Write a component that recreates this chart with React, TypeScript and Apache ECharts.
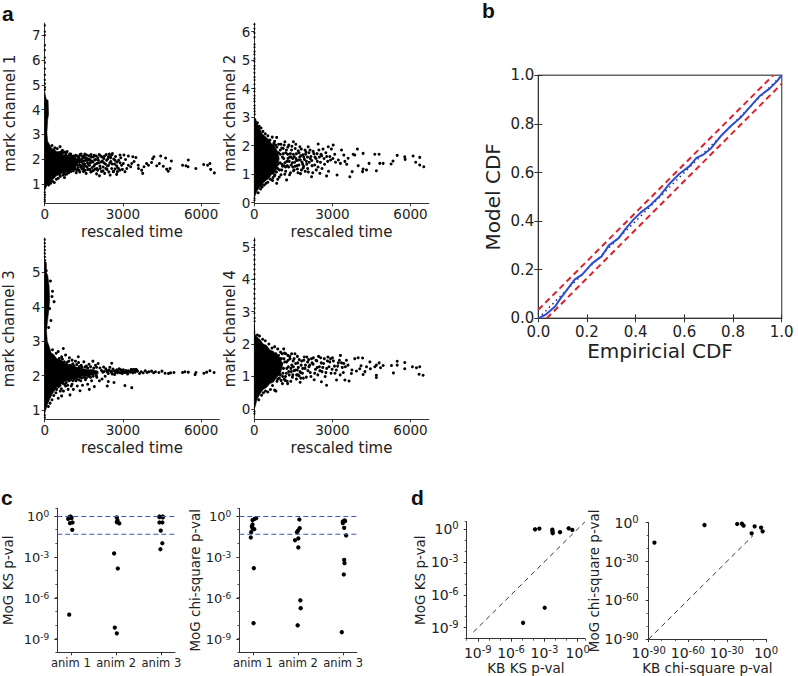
import React, { useEffect, useRef } from "react";
import * as echarts from "echarts";

type P = number[];

// ---------- panel a: mark channels vs rescaled time ----------
const timeTicks = [0, 3000, 6000];
const ch1Ticks = [1, 2, 3, 4, 5, 6, 7];
const ch2Ticks = [0, 1, 2, 3, 4, 5, 6];
const ch3Ticks = [1, 2, 3, 4, 5];
const ch4Ticks = [0, 1, 2, 3, 4, 5];

// outlines of the saturated (solid black) part of each cloud
const ch1Core: P[] = [[0,4.7],[60,4.42],[130,4.38],[150,3.8],[115,3.6],[85,3.05],[115,2.72],[200,2.56],[280,2.42],[350,2.42],[450,2.3],[590,2.3],[700,2.16],[800,2.18],[900,2.08],[1050,2.1],[1180,1.98],[1280,1.85],[1180,1.7],[1050,1.55],[900,1.54],[800,1.45],[700,1.46],[590,1.35],[450,1.32],[350,1.2],[280,1.16],[200,1.02],[100,0.95],[40,0.82],[0,0.72]];
const ch2Core: P[] = [[0,3.0],[50,2.95],[110,2.78],[220,2.58],[300,2.42],[350,2.38],[470,2.28],[560,2.22],[650,2.08],[760,2.02],[880,1.82],[960,1.55],[880,1.22],[760,1.02],[650,0.98],[560,0.84],[470,0.8],[350,0.7],[300,0.58],[220,0.55],[110,0.42],[50,0.28],[0,0.18]];
const ch3Core: P[] = [[0,5.3],[60,5.3],[70,5.0],[120,4.9],[170,4.6],[190,4.2],[160,3.9],[110,3.6],[70,3.3],[100,3.0],[170,2.85],[250,2.66],[340,2.62],[460,2.5],[620,2.45],[840,2.34],[1000,2.32],[1160,2.25],[1320,2.24],[1480,2.2],[1650,2.18],[1850,2.18],[2050,2.13],[2050,2.05],[1850,2.02],[1650,1.98],[1480,1.98],[1320,1.96],[1160,1.93],[1000,1.88],[840,1.85],[620,1.76],[460,1.66],[340,1.52],[200,1.33],[100,1.15],[40,1.0],[0,0.9]];
const ch4Core: P[] = [[0,2.6],[30,2.3],[100,2.22],[220,2.14],[340,2.0],[470,1.96],[600,1.82],[730,1.78],[860,1.66],[1000,1.58],[1090,1.35],[1000,1.08],[860,0.98],[730,0.82],[600,0.78],[470,0.66],[340,0.6],[220,0.46],[100,0.28],[40,0.08],[0,0.0]];

const ch1Spikes: P[] = [[5,7.4],[5,7.15],[5,7.0],[8,6.6],[5,6.4],[5,6.1],[8,5.9],[5,5.65],[8,5.4],[5,5.2],[10,5.05],[15,4.9],[8,4.8],[5,0.65],[8,0.55],[5,0.45],[3,0.35],[5,0.28]];
const ch2Spikes: P[] = [[5,6.25],[5,6.1],[5,5.95],[5,5.8],[8,5.55],[5,5.45],[8,5.3],[5,5.2],[8,5.05],[5,4.95],[8,4.8],[5,4.7],[5,4.55],[8,4.4],[8,4.3],[5,4.15],[8,4.0],[5,3.9],[8,3.75],[5,3.65],[8,3.55],[10,3.4],[8,3.3],[12,3.2],[15,3.1],[8,0.15],[5,0.08]];
const ch3Spikes: P[] = [[5,5.95],[5,5.85],[5,5.75],[8,5.65],[5,5.55],[8,5.45],[20,5.35],[5,0.85],[8,0.78]];
const ch4Spikes: P[] = [[5,5.2],[5,5.05],[5,4.9],[5,4.75],[5,4.6],[8,4.45],[5,4.3],[8,4.15],[5,4.0],[5,3.85],[8,3.7],[5,3.55],[8,3.4],[5,3.25],[8,3.1],[5,2.95],[10,2.8],[12,2.7],[8,-0.08],[5,-0.15]];

const ch1Sparse: P[] = [
  [6510,1.44],[6370,1.58],[6340,1.82],[6250,1.75],[6100,1.78],[5800,1.62],[5510,1.96],[5500,1.69],[5420,1.73],[5290,1.75],
  [4860,1.92],[4810,1.62],[4740,1.51],[4680,1.59],[4640,2.04],[4450,2.12],[4550,1.71],[4400,1.82],[4300,1.73],[4190,2.09],
  [4140,2.01],[4100,1.86],[3980,1.75],[3910,1.82],[3760,1.42],[3720,1.55],[3810,1.69],[3590,1.75],[3500,2.06],[3380,2.09],
  [3210,2.12],[3040,2.16],[2890,2.16],[3340,1.82],[3210,1.75],[3300,1.69],[3020,1.82],[2890,1.85],[2760,1.73],[2630,1.49],
  [2790,1.49],[3080,1.49],[2510,2.09],[2570,2.16],[2440,2.09],[3430,1.9],[3150,1.62],[2980,1.58],[2700,1.95],[3600,1.62],[3100,1.98],
  [1000,1.62],[1000,2.2],[1030,1.9],[1060,1.7],[1080,2.1],[1100,1.53],[1120,2.02],[1150,1.85],[1170,1.62],[1190,2.15],
  [1210,1.45],[1240,1.95],[1260,1.75],[1290,2.08],[1310,1.55],[1330,1.86],[1360,2.18],[1380,1.68],[1400,1.98],[1430,1.6],
  [1450,2.1],[1470,1.8],[1490,1.5],[1520,1.92],[1540,2.2],[1570,1.72],[1590,1.42],[1620,2.02],[1640,1.85],[1660,1.58],
  [1690,2.13],[1720,1.75],[1740,1.95],[1770,1.48],[1790,2.08],[1820,1.66],[1850,1.88],[1880,1.55],[1900,2.15],[1930,1.78],
  [1960,1.98],[1990,1.4],[2010,1.62],[2040,2.05],[2070,1.85],[2100,1.32],[2120,1.72],[2150,2.12],[2180,1.5],[2210,1.92],
  [2240,1.68],[2270,2.02],[2300,1.42],[2330,1.8],[2360,2.18],[2390,1.58],[2420,2.0],[2450,1.75],[2480,2.2],[2510,1.35],
  [2540,1.9],[2570,1.62],[2600,2.22],[2640,1.5],[2680,1.8],[2720,2.1],[2760,1.38],[2800,1.65],[2840,1.95],[2880,1.55],
  [2920,2.05],[2950,1.75],[1080,1.95],[1140,1.7],[1220,1.85],[1300,2.0],[1350,1.75],[1420,1.88],[1500,1.7],[1560,2.05],
  [150,0.95],[230,1.02],[300,1.1],[370,1.05],[450,1.18],[520,1.22],[600,1.3],[700,1.35],[760,1.25],[850,1.4],[920,1.45],
  [280,2.55],[390,2.45],[480,2.42],[590,2.5],[680,2.35],[770,2.28],[860,2.3],[960,2.2],
  [620,2.28],[660,2.15],[710,2.25],[745,1.42],[790,1.38],[820,2.2],[880,1.5],[910,2.12],[940,1.52],[990,2.15],[1015,1.5],[1045,2.05],[1075,1.58],[1105,2.12],[1135,1.62],[1160,2.05],[1185,1.75],[1205,1.98],[1230,1.55],[1255,2.12],[1275,1.65],[1300,1.9],[1325,2.1],[1345,1.48],[1370,1.95],[1395,2.2],[1410,1.72],[1440,1.9],[1465,2.03],[1485,1.62],[1510,2.12],[1530,1.8],[1555,1.55],[1580,1.95],[1605,2.16],[1630,1.68],[1655,1.95],[1680,1.78],[1705,2.0],[1730,1.58],[1755,1.85],[1780,2.18],[1810,1.92],[1835,1.52],[1865,2.08],[1890,1.72],[1920,1.96],[1945,1.6],[1975,2.12],[2000,1.82],[2030,1.55],[2060,1.95],[2090,2.18],[2130,1.62],[2160,1.88],[2200,2.08],[2235,1.52],[2265,1.85],[2295,2.12],[2340,1.62],[2375,1.95],[2410,1.72],[2460,1.48],[2500,1.85],[2530,2.05],[2590,1.8],[2650,2.0],[2700,1.6],[2770,1.88],[2830,1.62],
];
const ch2Sparse: P[] = [
  [6510,1.26],[6355,1.32],[6200,1.42],[6355,1.59],[6100,1.64],[5780,1.61],[5795,1.52],[5490,1.66],[5330,1.46],[5255,1.36],
  [4950,1.38],[4820,1.38],[4795,1.7],[4630,1.7],[4690,1.12],[4410,1.38],[4310,1.15],[4180,1.18],[4160,1.09],[4180,1.73],
  [3960,1.88],[3860,1.67],[3800,1.7],[3990,1.3],[3760,1.09],[3670,0.91],[3605,1.56],[3350,1.85],[3440,1.67],[3310,1.38],
  [3180,0.97],[3030,2.02],[2840,1.96],[2775,0.94],[2520,1.03],[2455,2.06],[2200,0.91],[2070,1.96],[1750,1.96],[1500,2.14],
  [1175,2.14],[860,2.29],[1240,0.8],[860,0.68],[3550,1.35],[3480,1.45],[3230,1.5],[3120,1.42],[2960,1.88],[2900,1.62],
  [2850,1.1],[2750,1.75],[2680,1.55],[2600,1.2],[2560,1.7],[2480,1.85],[2420,1.45],[2380,1.15],[2330,1.6],[2260,1.8],
  [2220,1.3],[2150,1.55],[2100,1.75],[2050,1.2],[2000,1.45],[1950,1.85],[1900,1.6],[1860,1.35],[1810,1.15],[1770,1.5],
  [1720,1.75],[1680,1.05],[1640,1.3],[1600,1.55],[1570,1.9],[1530,1.15],[1500,1.7],[1460,1.4],[1430,1.85],[1390,1.05],
  [1360,1.6],[1320,1.25],[1290,1.95],[1250,1.45],[1210,1.75],[1170,1.0],[1140,1.3],[1110,1.9],[1080,1.6],[1050,1.15],
  [1020,2.05],[990,1.4],[960,0.9],[930,1.75],[900,1.2],[870,1.95],[840,1.5],[1000,1.7],[1060,1.35],[1130,1.55],[1200,1.25],
  [1280,1.7],[1340,1.45],[1410,1.6],[1480,1.25],[1550,1.42],[1620,1.72],[1700,1.5],[1790,1.65],[1880,1.22],[1970,1.7],
  [900,0.82],[780,0.95],[700,0.78],[620,0.82],[520,0.72],[450,0.68],[380,0.62],[300,0.55],[240,0.48],[150,0.35],
  [780,2.15],[690,2.3],[600,2.2],[520,2.35],[420,2.42],[330,2.5],[260,2.62],[190,2.68],[120,2.8],
  [720,0.88],[750,2.08],[790,0.98],[820,2.02],[850,1.08],[880,1.75],[910,1.35],[935,2.05],[965,1.15],[995,1.85],[1025,0.98],[1055,1.92],[1085,1.28],[1115,1.72],[1145,2.02],[1175,1.4],[1205,1.1],[1235,1.85],[1265,1.3],[1295,1.55],[1325,2.02],[1355,0.98],[1385,1.72],[1415,1.32],[1445,1.98],[1475,1.55],[1505,1.12],[1535,1.62],[1565,1.28],[1595,2.05],[1625,1.48],[1655,1.18],[1685,1.82],[1715,1.32],[1745,1.6],[1775,1.02],[1805,1.88],[1835,1.42],[1865,1.68],[1895,1.28],[1925,1.52],[1955,1.1],[1985,1.78],[2015,1.35],[2045,1.6],[2075,1.08],[2110,1.42],[2140,1.85],[2175,1.62],[2210,1.48],[2245,1.05],[2290,1.72],[2320,1.32],[2370,1.55],[2410,1.72],[2450,1.25],[2500,1.6],[2540,1.42],[2590,1.65],[2640,1.88],[2700,1.35],[2780,1.62],[2820,1.45],[2930,1.5],[3020,1.55],[3090,1.7],
];
const ch3Sparse: P[] = [
  [6500,2.09],[6340,2.14],[6215,2.1],[6110,2.07],[5805,2.09],[5770,2.03],[5510,2.1],[5380,2.11],[5290,2.09],[4960,2.09],
  [4830,2.08],[4750,2.06],[4620,2.07],[4500,2.13],[4380,2.09],[4250,2.11],[4180,2.08],[4100,2.13],[4000,2.11],[3930,2.09],
  [3860,2.14],[3780,2.08],[3700,2.11],[3640,2.06],[3560,2.13],[3500,2.18],[3430,2.15],[3380,2.08],[3320,2.18],[3250,2.12],
  [3180,2.05],[3120,2.15],[3050,2.1],[2980,2.06],[2920,2.17],[2860,2.2],[2790,2.08],[2740,2.14],[2680,2.03],[2620,2.19],
  [2560,2.1],[2500,2.24],[2440,2.06],[2380,2.14],[2320,1.98],[2260,2.25],[3340,1.65],[3080,1.71],[2570,2.36],[2660,1.8],
  [2440,1.83],[2400,1.7],[1905,1.68],[1710,1.6],[1355,1.56],[1290,2.55],[970,1.44],[650,1.41],[520,1.34],[205,1.2],
  [715,2.79],[360,4.15],[2050,2.35],[1950,2.3],[1850,2.42],[1700,2.33],[1600,2.28],[1500,2.4],[1400,2.3],[1300,2.38],[1180,2.42],
  [1050,2.45],[950,2.52],[800,2.6],[650,2.55],[520,2.7],[440,2.65],[300,2.75],[2200,1.9],[2100,1.85],[2000,1.95],[1800,1.85],[1650,1.75],[1560,1.88],
  [1450,1.72],[1380,1.85],[1250,1.7],[1200,1.85],[1100,1.6],[1050,1.75],[900,1.6],[800,1.7],[720,1.55],[600,1.55],[430,1.5],
  [350,1.42],[280,1.3],[140,1.1],[300,4.45],[280,4.3],[240,3.6],[220,4.75],[190,3.95],[150,3.4],[60,5.05],
  [330,1.58],[390,1.62],[460,1.6],[530,1.68],[590,1.72],[640,1.62],[690,1.78],[760,1.75],[830,1.8],[880,1.72],[930,1.85],[990,1.88],[1020,1.7],[1080,1.85],[1130,1.9],[1220,1.92],[1300,1.88],[1340,1.95],[1420,1.93],[1520,1.95],[1600,1.93],[1680,1.98],[1760,1.95],[1860,1.98],[1980,2.0],
  [560,2.5],[600,2.42],[680,2.48],[750,2.4],[850,2.38],[920,2.42],[1000,2.3],[1080,2.34],[1130,2.28],[1230,2.32],[1330,2.26],[1430,2.24],[1550,2.25],[1650,2.22],[1760,2.26],[1880,2.22],[1990,2.24],[2120,2.22],[2180,2.15],[2230,2.1],[2280,2.12],[2340,2.2],[2410,2.1],[2460,2.16],[2530,2.13],[2590,2.05],[2650,2.14],[2710,2.1],[2770,2.17],[2830,2.12],[2900,2.08],[2960,2.12],[3020,2.17],[3090,2.09],[3150,2.11],[3210,2.14],[3280,2.1],[3350,2.13],[3410,2.18],[3470,2.1],[3530,2.16],
];
const ch4Sparse: P[] = [
  [6485,1.04],[6330,1.07],[6355,1.3],[6230,1.27],[6075,1.3],[5780,1.43],[5780,1.24],[5490,1.47],[5490,1.35],[5270,1.34],
  [5345,1.11],[4950,1.34],[4850,1.27],[4795,1.42],[4690,1.35],[4690,1.04],[4690,0.97],[4630,1.3],[4440,1.45],[4460,1.24],
  [4310,1.3],[4180,1.06],[4160,1.57],[3990,1.58],[3860,1.55],[4050,1.24],[3730,1.09],[3640,0.86],[3925,1.17],[3540,1.5],
  [3310,1.65],[3160,0.89],[3480,0.89],[2775,0.73],[2580,0.84],[3005,1.58],[4250,1.15],[4100,1.33],[3750,1.2],[3600,1.35],
  [3440,1.4],[3380,1.28],[3300,1.05],[3230,1.42],[3150,1.2],[3080,1.32],[2950,1.1],[2900,1.45],[2830,1.6],[2780,1.25],
  [2720,1.0],[2660,1.4],[2600,1.15],[2550,1.58],[2500,1.3],[2440,1.05],[2400,1.48],[2350,1.22],[2300,0.9],[2260,1.38],
  [2200,1.55],[2150,1.12],[2100,1.3],[2050,1.45],[2000,0.98],[1950,1.25],[1900,1.5],[1850,1.1],[1800,1.35],[1760,0.82],
  [1720,1.02],[1670,1.42],[1620,0.92],[1580,1.2],[1530,1.55],[1480,1.05],[1440,1.35],[1400,0.85],[1360,1.62],[1320,1.15],
  [1280,0.78],[1240,1.45],[1200,1.0],[1160,1.72],[1120,1.25],[1080,0.78],[1040,1.55],[1000,1.05],[980,1.3],[1010,1.75],
  [1060,1.4],[1100,1.1],[1140,1.55],[1190,0.88],[1250,1.25],[1300,1.5],[1420,1.15],[1500,1.3],[1650,1.2],[1780,1.12],[1680,1.05],
  [830,0.55],[780,0.58],[700,0.72],[620,0.6],[520,0.52],[430,0.55],[350,0.5],[280,0.42],[170,0.28],[870,0.85],[900,1.85],
  [780,1.92],[680,1.88],[560,2.0],[420,2.1],[320,2.15],[200,2.25],[120,2.28],
  [830,1.7],[870,1.05],[900,0.92],[930,1.65],[960,0.95],[1010,1.55],[1030,0.88],[1070,1.7],[1090,1.0],[1130,1.85],[1150,0.92],[1170,1.45],[1210,1.7],[1230,1.1],[1260,0.85],[1290,1.65],[1310,1.3],[1340,1.05],[1375,1.55],[1405,1.25],[1435,1.7],[1465,0.98],[1495,1.48],[1525,1.18],[1560,1.7],[1590,1.4],[1625,1.05],[1655,1.62],[1690,1.28],[1725,1.52],[1755,1.15],[1785,0.95],[1820,1.48],[1860,1.25],[1885,0.95],[1920,1.6],[1965,1.35],[2020,1.6],[2060,1.18],[2090,1.52],[2130,1.35],[2175,1.0],[2220,1.42],[2270,1.58],[2320,1.1],[2370,1.5],[2420,1.28],[2470,1.62],[2520,1.18],[2570,1.42],[2630,1.28],[2690,1.55],[2750,1.12],[2810,1.48],[2870,1.3],[2930,1.55],[2990,1.22],[3040,1.48],[3100,1.1],[3200,1.32],[3270,1.5],[3350,1.42],[3420,1.12],[3500,1.3],
];

// ---------- panel b: calibration curve ----------
const cdfTicks = [0, 0.2, 0.4, 0.6, 0.8, 1.0];
const cdfIdeal: P[] = [[0,0],[1,1]];
const cdfUpper: P[] = [[0,0.035],[0.965,1]];
const cdfLower: P[] = [[0.035,0],[1,0.965]];
const cdfModel: P[] = [[0,0],[0.03,0.015],[0.07,0.05],[0.09,0.08],[0.12,0.12],[0.15,0.16],[0.18,0.18],[0.22,0.225],[0.26,0.255],[0.29,0.30],[0.33,0.33],[0.36,0.37],[0.39,0.405],[0.42,0.435],[0.46,0.465],[0.5,0.505],[0.54,0.555],[0.58,0.595],[0.62,0.625],[0.65,0.66],[0.68,0.675],[0.71,0.70],[0.75,0.75],[0.79,0.79],[0.83,0.825],[0.87,0.87],[0.91,0.915],[0.95,0.945],[0.98,0.975],[1,1]];

// ---------- panel c: p-values per animal (x: animal + jitter, y: log10 p) ----------
const animTicks = [1, 2, 3];
const decadeTicks = [-9, -6, -3, 0];
const kbLines = [0, -1.3];
const mogKs: P[] = [
  [0.963,-0.05],[0.99,0],[0.94,-0.17],[1.015,-0.12],[0.98,-0.49],[1.037,-0.44],[1.03,-0.98],[0.963,-7.19],[1.0,-0.05],[0.97,-0.1],
  [2.015,-0.07],[2.03,-0.29],[2.015,-0.42],[2.07,-0.51],[1.955,-2.71],[2.037,-3.81],[1.97,-8.14],[2.015,-8.56],
  [2.956,0],[3.03,0],[2.956,-0.05],[3.03,-0.07],[2.956,-0.44],[3.02,-0.44],[2.985,-1.03],[3.02,-1.96],[2.978,-2.4],
];
const mogChi: P[] = [
  [1.074,-0.12],[1.037,-0.17],[0.993,-0.27],[0.993,-0.59],[0.978,-0.73],[1.03,-0.93],[0.993,-0.86],[0.963,-1.15],[0.955,-1.54],[1.022,-3.79],[1.015,-7.82],
  [2.03,-0.22],[2.037,-0.86],[2.0,-1.03],[1.978,-1.15],[2.007,-1.61],[1.933,-1.74],[2.007,-2.27],[2.052,-6.14],[2.059,-6.72],[1.993,-7.97],
  [3.03,-0.29],[2.993,-0.37],[3.044,-0.34],[2.993,-0.49],[3.022,-0.83],[3.066,-1.39],[3.022,-3.18],[3.03,-3.42],[3.015,-4.25],[2.97,-8.48],
];

// ---------- panel d: MoG vs KB p-values (log10) ----------
const wideDecadeTicks = [-90, -60, -30, 0];
const ksPairs: P[] = [[-3.84,-0.03],[-3.45,0.03],[-2.28,-0.06],[-2.25,-0.39],[-1.59,-0.3],[-0.81,0.06],[-0.48,-0.09],[-2.97,-7.18],[-4.92,-8.55],[-2.27,-0.21]];
const chiPairs: P[] = [[-85.6,-15.4],[-47.2,-1.8],[-22.1,-1],[-18.5,-0.8],[-17.2,-2.3],[-11,-8.2],[-8.7,-2.8],[-3.8,-3.8],[-2.6,-6.7]];
const ksDiagonal: P[] = [[-9.4,-9.4],[0.66,0.66]];
const chiDiagonal: P[] = [[-90,-90],[-10,-10]];

const FONT = "DejaVu Sans";
const INK = "#222222";
const DASH_BLUE = "#4055b5";

function buildOption() {
  const grid: any[] = [];
  const xAxis: any[] = [];
  const yAxis: any[] = [];
  const series: any[] = [];

  const powerLabel = (v: number) => `10{s|${v}}`;
  const powerRich = (size: number) => ({
    s: { fontSize: size, fontFamily: FONT, color: INK, verticalAlign: "top", padding: [0, 0, size * 0.6, 0] },
  });

  function panel(c: {
    rect: number[]; xr: number[]; yr: number[]; xTicks: number[]; yTicks: number[];
    xName: string; yName: string; nameSize: number; xGap: number; yGap: number;
    tickSize: number; yTickSize?: number; xFmt?: (v: number) => string; yFmt?: (v: number) => string;
    xPower?: number; yPower?: number; xMinor?: number; yMinor?: number; xMargin?: number; yMargin?: number;
  }) {
    const g = grid.length;
    grid.push({ left: c.rect[0], top: c.rect[1], width: c.rect[2], height: c.rect[3], containLabel: false });
    const base = {
      gridIndex: g, type: "value", splitLine: { show: false }, nameLocation: "middle",
      nameTextStyle: { fontFamily: FONT, fontSize: c.nameSize, color: INK },
    };
    const xi = xAxis.length;
    const yi = yAxis.length;
    xAxis.push({
      ...base, position: "bottom", min: c.xr[0], max: c.xr[1], name: c.xName, nameGap: c.xGap,
      axisLine: { onZero: false, lineStyle: { color: "#333", width: 1 } },
      axisTick: { show: true, length: 3, customValues: c.xTicks, lineStyle: { color: "#333" } },
      axisLabel: {
        show: true, customValues: c.xTicks, margin: c.xMargin ?? 4, fontFamily: FONT, fontSize: c.tickSize, color: INK,
        formatter: c.xFmt ?? ((v: number) => String(v)), rich: c.xPower ? powerRich(c.xPower) : undefined,
        showMinLabel: true, showMaxLabel: true, hideOverlap: false,
      },
    });
    yAxis.push({
      ...base, position: "left", min: c.yr[0], max: c.yr[1], name: c.yName, nameGap: c.yGap,
      axisLine: { onZero: false, lineStyle: { color: "#333", width: 1 } },
      axisTick: { show: true, length: 3, customValues: c.yTicks, lineStyle: { color: "#333" } },
      axisLabel: {
        show: true, customValues: c.yTicks, margin: c.yMargin ?? 4, fontFamily: FONT, fontSize: c.yTickSize ?? c.tickSize, color: INK,
        formatter: c.yFmt ?? ((v: number) => String(v)), rich: c.yPower ? powerRich(c.yPower) : undefined,
        showMinLabel: true, showMaxLabel: true, hideOverlap: false,
      },
    });
    // companion axes carrying the small log-decade ticks
    if (c.xMinor) {
      xAxis.push({
        gridIndex: g, type: "value", position: "bottom", min: c.xr[0], max: c.xr[1], interval: c.xMinor,
        splitLine: { show: false }, axisLine: { show: false, onZero: false }, axisLabel: { show: false },
        axisTick: { show: true, length: 2, lineStyle: { color: "#333", width: 0.8 } },
      });
    }
    if (c.yMinor) {
      yAxis.push({
        gridIndex: g, type: "value", position: "left", min: c.yr[0], max: c.yr[1], interval: c.yMinor,
        splitLine: { show: false }, axisLine: { show: false, onZero: false }, axisLabel: { show: false },
        axisTick: { show: true, length: 2, lineStyle: { color: "#333", width: 0.8 } },
      });
    }
    return { xAxisIndex: xi, yAxisIndex: yi };
  }

  const dots = (ax: any, name: string, data: P[], size: number) => ({
    ...ax, type: "scatter", name, data, symbol: "circle", symbolSize: size, clip: false,
    itemStyle: { color: "#000", opacity: 1 }, z: 5,
  });
  const coreShape = (ax: any, name: string, data: P[]) => ({
    ...ax, type: "custom", name, data, clip: false, z: 4,
    encode: { x: 0, y: 1 },
    renderItem: (params: any, api: any) => {
      if (params.dataIndex !== 0) return null;
      return { type: "polygon", shape: { points: data.map((p) => api.coord(p)) }, style: { fill: "#000", stroke: "#000", lineWidth: 0.5 } };
    },
  });
  const line = (ax: any, name: string, data: P[], color: string, width: number, type: any, z = 3) => ({
    ...ax, type: "line", name, data, symbol: "none", clip: true, z, silent: true,
    lineStyle: { color, width, type }, smooth: false,
  });

  // a
  const aPanels = [
    { rect: [44.7, 23, 174.6, 180.3], yr: [0.21, 7.5], yTicks: ch1Ticks, name: "mark channel 1", core: ch1Core, spikes: ch1Spikes, sparse: ch1Sparse, gap: 27 },
    { rect: [254.3, 23, 174.4, 180.3], yr: [-0.02, 6.3], yTicks: ch2Ticks, name: "mark channel 2", core: ch2Core, spikes: ch2Spikes, sparse: ch2Sparse, gap: 16 },
    { rect: [44.7, 238, 174.6, 181.3], yr: [0.73, 6.0], yTicks: ch3Ticks, name: "mark channel 3", core: ch3Core, spikes: ch3Spikes, sparse: ch3Sparse, gap: 28 },
    { rect: [254.3, 238, 174.4, 181.3], yr: [-0.32, 5.27], yTicks: ch4Ticks, name: "mark channel 4", core: ch4Core, spikes: ch4Spikes, sparse: ch4Sparse, gap: 16 },
  ];
  aPanels.forEach((p) => {
    const ax = panel({
      rect: p.rect, xr: [0, 6700], yr: p.yr, xTicks: timeTicks, yTicks: p.yTicks,
      xName: "rescaled time", yName: p.name, nameSize: 15, xGap: 21, yGap: p.gap, tickSize: 13.5,
    });
    series.push(coreShape(ax, p.name + " core", p.core));
    series.push(dots(ax, p.name + " spikes", p.spikes, 2));
    series.push(dots(ax, p.name, p.sparse, 3));
  });

  // b
  {
    const rect = [538.3, 75.3, 243.4, 243];
    const g = grid.length;
    const ax = panel({
      rect, xr: [0, 1], yr: [0, 1], xTicks: cdfTicks, yTicks: cdfTicks,
      xName: "Empiricial CDF", yName: "Model CDF", nameSize: 20, xGap: 23, yGap: 35, tickSize: 15,
      xFmt: (v) => v.toFixed(1), yFmt: (v) => v.toFixed(1), xMargin: 6,
    });
    grid[g].show = true;
    grid[g].borderColor = "#666";
    grid[g].borderWidth = 1.4;
    grid[g].backgroundColor = "transparent";
    xAxis[ax.xAxisIndex].axisTick.inside = true;
    xAxis[ax.xAxisIndex].axisTick.length = 4;
    yAxis[ax.yAxisIndex].axisTick.inside = true;
    yAxis[ax.yAxisIndex].axisTick.length = 4;
    xAxis.push({ gridIndex: g, type: "value", position: "top", min: 0, max: 1, splitLine: { show: false }, axisLine: { show: false },
      axisLabel: { show: false }, axisTick: { show: true, inside: true, length: 4, customValues: cdfTicks, lineStyle: { color: "#333" } } });
    yAxis.push({ gridIndex: g, type: "value", position: "right", min: 0, max: 1, splitLine: { show: false }, axisLine: { show: false },
      axisLabel: { show: false }, axisTick: { show: true, inside: true, length: 4, customValues: cdfTicks, lineStyle: { color: "#333" } } });
    series.push(line(ax, "ideal", cdfIdeal, "#26306e", 1.5, [1.5, 3.5], 3));
    series.push(line(ax, "upper bound", cdfUpper, "#d9232e", 2, [6, 4], 4));
    series.push(line(ax, "lower bound", cdfLower, "#d9232e", 2, [6, 4], 4));
    series.push(line(ax, "model", cdfModel, "#2f4ecb", 2, "solid", 5));
  }

  // c
  const cPanels = [
    { rect: [57.3, 508.3, 117.7, 144], name: "MoG KS p-val", data: mogKs, gap: 42 },
    { rect: [239.3, 508.3, 117.4, 144], name: "MoG chi-square p-val", data: mogChi, gap: 37 },
  ];
  cPanels.forEach((p) => {
    const ax = panel({
      rect: p.rect, xr: [0.7, 3.3], yr: [-9.95, 0.6], xTicks: animTicks, yTicks: decadeTicks,
      xName: "", yName: p.name, nameSize: 13.5, xGap: 20, yGap: p.gap, tickSize: 11.5, yTickSize: 13, yPower: 9,
      xFmt: (v) => `anim ${v}`, yFmt: powerLabel, xMargin: 5, yMargin: 8, yMinor: 1,
    });
    kbLines.forEach((level, i) => {
      series.push(line(ax, `significance ${i + 1}`, [[0.7, level], [3.3, level]], DASH_BLUE, 1.1, [5, 3], 6));
    });
    series.push(dots(ax, p.name, p.data, 4.3));
  });

  // d
  const ksAx = panel({
    rect: [466.7, 521.7, 118.3, 117], xr: [-10, 0.66], yr: [-10, 0.66], xTicks: decadeTicks, yTicks: decadeTicks,
    xName: "KB KS p-val", yName: "MoG KS p-val", nameSize: 13.5, xGap: 21, yGap: 38, tickSize: 14, xPower: 10, yPower: 10,
    xFmt: powerLabel, yFmt: powerLabel, xMinor: 1, yMinor: 1, xMargin: 6, yMargin: 8,
  });
  series.push(line(ksAx, "identity", ksDiagonal, "#333", 1, [5, 4], 3));
  series.push(dots(ksAx, "MoG vs KB KS", ksPairs, 4.3));
  const chiAx = panel({
    rect: [648.7, 522.7, 117.3, 116.6], xr: [-90, 0], yr: [-90, 0], xTicks: wideDecadeTicks, yTicks: wideDecadeTicks,
    xName: "KB chi-square p-val", yName: "MoG chi-square p-val", nameSize: 13.5, xGap: 21, yGap: 43, tickSize: 14, xPower: 10, yPower: 10,
    xFmt: powerLabel, yFmt: powerLabel, xMinor: 10, yMinor: 10, xMargin: 6, yMargin: 10,
  });
  series.push(line(chiAx, "identity", chiDiagonal, "#333", 1, [5, 4], 3));
  series.push(dots(chiAx, "MoG vs KB chi-square", chiPairs, 4.3));

  const letter = (text: string, x: number, y: number) => ({
    type: "text", x, y,
    style: { text, fontFamily: "Liberation Sans", fontWeight: "bold", fontSize: 21, fill: "#111" },
  });

  return {
    animation: false,
    backgroundColor: "#ffffff",
    grid, xAxis, yAxis, series,
    graphic: [letter("a", 2, 3), letter("b", 482, 0), letter("c", 1, 487), letter("d", 411, 487)],
  };
}

export default function App() {
  const ref = useRef<HTMLDivElement>(null);
  useEffect(() => {
    document.body.style.margin = "0";
    const chart = echarts.init(ref.current!, undefined, { renderer: "svg" });
    chart.setOption(buildOption() as any);
    return () => chart.dispose();
  }, []);
  return <div ref={ref} style={{ width: 798, height: 676 }} />;
}
